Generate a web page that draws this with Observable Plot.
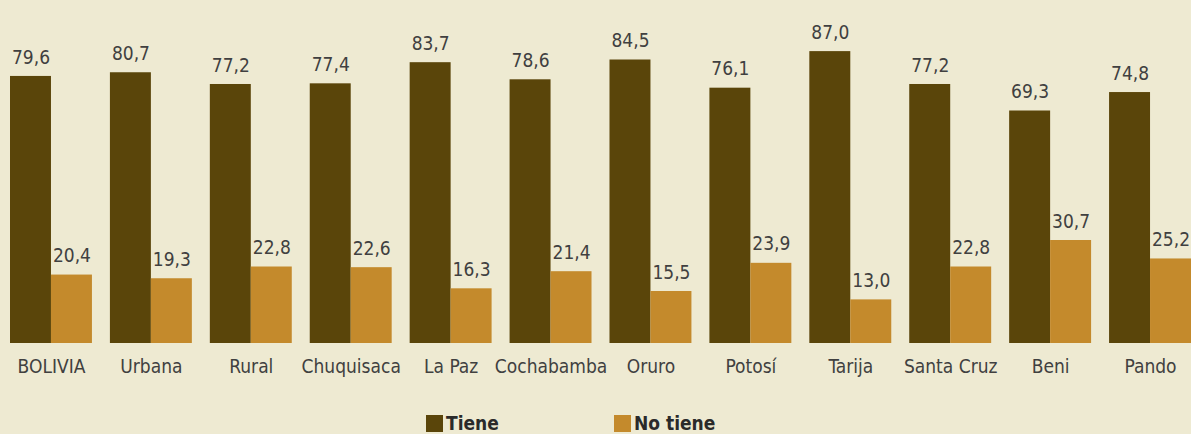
<!DOCTYPE html>
<html><head><meta charset="utf-8">
<script src="https://cdn.jsdelivr.net/npm/d3@7"></script>
<script src="https://cdn.jsdelivr.net/npm/@observablehq/plot@0.6"></script>
<style>
html,body{margin:0;padding:0;background:#EEEAD2;overflow:hidden;}
#chart svg{display:block;}
#chart svg, #chart svg text{font-family:"DejaVu Sans Condensed","DejaVu Sans",sans-serif;font-stretch:condensed;}
.legend{position:relative;height:24px;font-family:"DejaVu Sans Condensed","DejaVu Sans",sans-serif;font-stretch:condensed;font-weight:bold;font-size:19px;color:#2a2a2a;}
.legend span{position:absolute;top:3px;display:flex;align-items:center;line-height:20px;}
.legend i{display:inline-block;width:17px;height:17px;margin-right:3px;}
</style></head>
<body>
<div id="chart"></div>
<div class="legend">
  <span style="left:426px"><i style="background:#5A450A"></i>Tiene</span>
  <span style="left:614px"><i style="background:#C48A2C"></i>No tiene</span>
</div>
<script>
const categories = ["BOLIVIA","Urbana","Rural","Chuquisaca","La Paz","Cochabamba","Oruro","Potosí","Tarija","Santa Cruz","Beni","Pando"];
const tiene = [79.6,80.7,77.2,77.4,83.7,78.6,84.5,76.1,87.0,77.2,69.3,74.8];
const noTiene = [20.4,19.3,22.8,22.6,16.3,21.4,15.5,23.9,13.0,22.8,30.7,25.2];
const series = ["Tiene","No tiene"];
const colors = ["#5A450A","#C48A2C"];

const data = [];
categories.forEach((c,i)=>{
  data.push({cat:c, serie:"Tiene", value:tiene[i]});
  data.push({cat:c, serie:"No tiene", value:noTiene[i]});
});
const fmt = v => v.toFixed(1).replace(".", ",");

const chart = Plot.plot({
  width: 1191,
  height: 410,
  marginTop: 7.5,
  marginBottom: 67,
  marginLeft: 10,
  marginRight: 0,
  style: {background: "transparent", fontSize: "19px", color: "#404040"},
  fx: {domain: categories, paddingInner: 0.18, paddingOuter: 0, round: false, label: null, axis: "bottom", tickSize: 0, tickPadding: 16},
  x: {domain: series, padding: 0, round: false, axis: null},
  y: {domain: [0,100], axis: null},
  color: {domain: series, range: colors},
  marks: [
    Plot.barY(data, {fx: "cat", x: "serie", y: "value", fill: "serie"}),
    Plot.text(data, {fx: "cat", x: "serie", y: "value", text: d => fmt(d.value), dy: -19, fill: "#404040", fontSize: 19})
  ]
});
document.getElementById("chart").appendChild(chart);
</script>
</body></html>
